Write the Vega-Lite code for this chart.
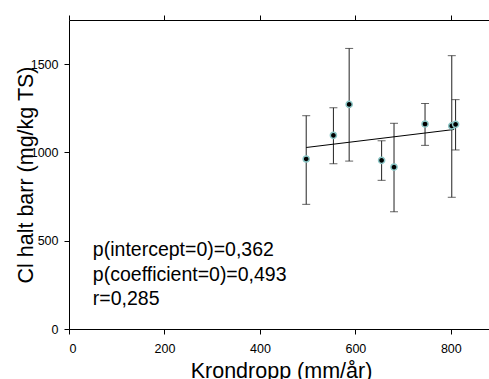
{
  "$schema": "https://vega.github.io/schema/vega-lite/v6.json",
  "width": 420,
  "height": 309,
  "autosize": {"type": "none"},
  "padding": {"left": 69, "top": 20, "right": 0, "bottom": 50},
  "config": {
    "view": {"stroke": null},
    "font": "Liberation Sans",
    "axis": {
      "grid": false,
      "domainColor": "#000000",
      "tickColor": "#000000",
      "domainWidth": 1,
      "tickWidth": 1,
      "tickSize": 5,
      "labelFont": "Liberation Sans",
      "labelFontSize": 12.5,
      "labelColor": "#000000",
      "titleFont": "Liberation Sans",
      "titleFontSize": 21.5,
      "titleFontWeight": "normal",
      "titleColor": "#000000"
    }
  },
  "datasets": {
    "obs": [
      {"krondropp": 497, "cl": 963, "lo": 706, "hi": 1208},
      {"krondropp": 554, "cl": 1097, "lo": 936, "hi": 1253},
      {"krondropp": 587, "cl": 1272, "lo": 951, "hi": 1589},
      {"krondropp": 655, "cl": 955, "lo": 842, "hi": 1066},
      {"krondropp": 681, "cl": 917, "lo": 664, "hi": 1165},
      {"krondropp": 746, "cl": 1161, "lo": 1040, "hi": 1277},
      {"krondropp": 802, "cl": 1150, "lo": 746, "hi": 1548},
      {"krondropp": 810, "cl": 1159, "lo": 1014, "hi": 1299}
    ],
    "fit": [
      {"krondropp": 497, "cl": 1028},
      {"krondropp": 807, "cl": 1130}
    ],
    "note": [
      {"text": "p(intercept=0)=0,362\np(coefficient=0)=0,493\nr=0,285"}
    ]
  },
  "layer": [
    {
      "data": {"name": "obs"},
      "mark": {"type": "rule", "color": "#222222", "strokeWidth": 1},
      "encoding": {
        "x": {"field": "krondropp", "type": "quantitative",
              "scale": {"domain": [0, 880], "nice": false, "zero": false},
              "axis": {"orient": "bottom", "values": [0, 200, 400, 600, 800], "labelPadding": 8,
                       "title": "Krondropp (mm/år)", "titleX": 212, "titleY": 48,
                       "titleBaseline": "alphabetic", "titleAlign": "center"}},
        "y": {"field": "lo", "type": "quantitative",
              "scale": {"domain": [0, 1750], "nice": false, "zero": false},
              "axis": {"orient": "left", "values": [0, 500, 1000, 1500], "format": "d", "labelPadding": 6,
                       "title": "Cl halt barr (mg/kg TS)", "titleX": -37, "titleY": 154.5,
                       "titleAngle": -90, "titleBaseline": "alphabetic", "titleAlign": "center"}},
        "y2": {"field": "hi"}
      }
    },
    {
      "data": {"name": "obs"},
      "mark": {"type": "tick", "orient": "horizontal", "color": "#222222", "size": 8, "thickness": 1},
      "encoding": {
        "x": {"field": "krondropp", "type": "quantitative", "axis": null},
        "y": {"field": "lo", "type": "quantitative"}
      }
    },
    {
      "data": {"name": "obs"},
      "mark": {"type": "tick", "orient": "horizontal", "color": "#222222", "size": 8, "thickness": 1},
      "encoding": {
        "x": {"field": "krondropp", "type": "quantitative", "axis": null},
        "y": {"field": "hi", "type": "quantitative"}
      }
    },
    {
      "data": {"name": "fit"},
      "mark": {"type": "line", "color": "#000000", "strokeWidth": 1},
      "encoding": {
        "x": {"field": "krondropp", "type": "quantitative",
              "axis": {"orient": "top", "values": [0, 200, 400, 600, 800], "labels": false, "title": null}},
        "y": {"field": "cl", "type": "quantitative"}
      }
    },
    {
      "data": {"name": "obs"},
      "mark": {"type": "point", "shape": "circle", "filled": true, "fill": "#000000", "stroke": "#8cc8c8", "strokeWidth": 1.5, "size": 38, "opacity": 1},
      "encoding": {
        "x": {"field": "krondropp", "type": "quantitative", "axis": null},
        "y": {"field": "cl", "type": "quantitative"}
      }
    },
    {
      "data": {"name": "note"},
      "mark": {"type": "text", "align": "left", "baseline": "alphabetic", "lineBreak": "\n", "lineHeight": 24.5, "fontSize": 19.5, "font": "Liberation Sans", "color": "#000000"},
      "encoding": {
        "x": {"datum": 50, "type": "quantitative", "axis": null},
        "y": {"datum": 413, "type": "quantitative"},
        "text": {"field": "text"}
      }
    }
  ]
}
